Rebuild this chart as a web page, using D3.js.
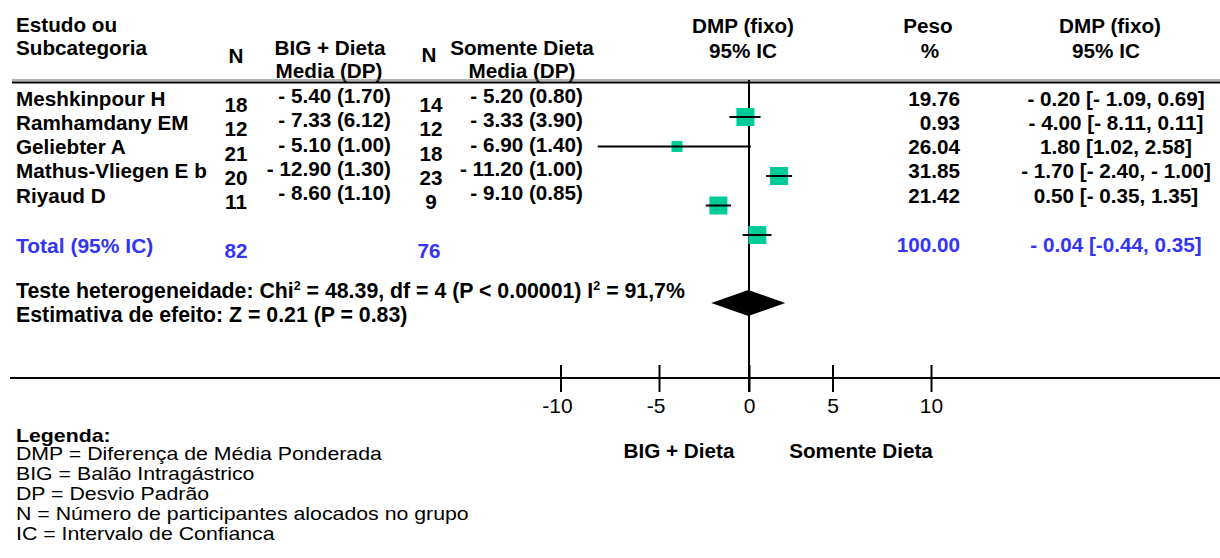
<!DOCTYPE html>
<html>
<head>
<meta charset="utf-8">
<script src="https://cdn.jsdelivr.net/npm/d3@7"></script>
<style>
  html, body { margin: 0; padding: 0; background: #fff; }
  svg { display: block; }
  text { font-family: "Liberation Sans", Arial, Helvetica, sans-serif; }
</style>
</head>
<body>
<svg id="chart" width="1220" height="558"></svg>
<script>
// ---- Study data: balloon + diet vs diet alone ----
const studies   = ["Meshkinpour H", "Ramhamdany EM", "Geliebter A", "Mathus-Vliegen E b", "Riyaud D"];
const nBig      = [18, 12, 21, 20, 11];
const meanBig   = [-5.40, -7.33, -5.10, -12.90, -8.60];
const sdBig     = [1.70, 6.12, 1.00, 1.30, 1.10];
const nDiet     = [14, 12, 18, 23, 9];
const meanDiet  = [-5.20, -3.33, -6.90, -11.20, -9.10];
const sdDiet    = [0.80, 3.90, 1.40, 1.00, 0.85];
const weights   = [19.76, 0.93, 26.04, 31.85, 21.42];
const wmd       = [-0.20, -4.00, 1.80, -1.70, 0.50];
const ciLow     = [-1.09, -8.11, 1.02, -2.40, -0.35];
const ciHigh    = [0.69, 0.11, 2.58, -1.00, 1.35];

// pooled (fixed effect) result
const totalNBig    = 82;
const totalNDiet   = 76;
const totalWeight  = 100.00;
const pooledWmd    = -0.04;
const pooledLow    = -0.44;
const pooledHigh   = 0.35;

const tickValues  = [-10, -5, 0, 5, 10];
const legendLines = [
  "DMP = Diferença de Média Ponderada",
  "BIG = Balão Intragástrico",
  "DP = Desvio Padrão",
  "N = Número de participantes alocados no grupo",
  "IC = Intervalo de Confianca"
];

// ---- helpers ----
const BLUE = "#3434f4";
const GREEN = "#00cc99";
const svg = d3.select("#chart");
svg.append("rect").attr("width", 1220).attr("height", 558).attr("fill", "#fff");

function label(x, y, s, opt = {}) {
  return svg.append("text")
    .attr("x", x).attr("y", y)
    .attr("text-anchor", opt.anchor || "start")
    .attr("font-weight", opt.weight || "bold")
    .attr("font-size", opt.size || 20.7)
    .attr("fill", opt.fill || "#000")
    .text(s);
}
// wide, short lettering for the tightly spaced legend block
function wideLabel(x, y, s, weight) {
  return svg.append("text")
    .attr("transform", `translate(${x},${y}) scale(1.217,1)`)
    .attr("font-weight", weight)
    .attr("font-size", 17.5)
    .attr("fill", "#000")
    .text(s);
}
const signed = v => (v < 0 ? "- " : "") + Math.abs(v).toFixed(2);
const tight  = v => (v < 0 ? "-" : "") + Math.abs(v).toFixed(2);

// ---- column headers ----
label(16, 32, "Estudo ou");
label(16, 55, "Subcategoria");
label(236, 63, "N", { anchor: "middle" });
label(330, 55, "BIG + Dieta", { anchor: "middle" });
label(329, 78, "Media (DP)", { anchor: "middle" });
label(429, 62, "N", { anchor: "middle" });
label(522, 55, "Somente Dieta", { anchor: "middle" });
label(522, 78, "Media (DP)", { anchor: "middle" });
label(743, 33, "DMP (fixo)", { anchor: "middle" });
label(743, 58, "95% IC", { anchor: "middle" });
label(928, 33, "Peso", { anchor: "middle" });
label(930, 58, "%", { anchor: "middle" });
label(1110, 33, "DMP (fixo)", { anchor: "middle" });
label(1106, 58, "95% IC", { anchor: "middle" });

// header rule (double line)
svg.append("line").attr("x1", 12).attr("x2", 1220).attr("y1", 80).attr("y2", 80)
  .attr("stroke", "#666").attr("stroke-width", 1);
svg.append("line").attr("x1", 12).attr("x2", 1220).attr("y1", 82.5).attr("y2", 82.5)
  .attr("stroke", "#000").attr("stroke-width", 2);

// ---- table rows ----
const rowY = d3.scalePoint().domain(studies).range([105.5, 202.5]);
studies.forEach((s, i) => {
  const y = rowY(s);
  label(16, y, s);
  label(236, y + 6.5, nBig[i], { anchor: "middle" });
  label(391, y - 2.5, `${signed(meanBig[i])} (${sdBig[i].toFixed(2)})`, { anchor: "end" });
  label(431, y + 6.5, nDiet[i], { anchor: "middle" });
  label(583, y - 2.5, `${signed(meanDiet[i])} (${sdDiet[i].toFixed(2)})`, { anchor: "end" });
  label(960, y, weights[i].toFixed(2), { anchor: "end" });
  label(1116, y, `${signed(wmd[i])} [${signed(ciLow[i])}, ${signed(ciHigh[i])}]`, { anchor: "middle" });
});

// total row
label(16, 253, "Total (95% IC)", { fill: BLUE, size: 21 });
label(236, 258, totalNBig, { anchor: "middle", fill: BLUE });
label(429, 258, totalNDiet, { anchor: "middle", fill: BLUE });
label(960, 252, totalWeight.toFixed(2), { anchor: "end", fill: BLUE });
label(1116, 252, `${signed(pooledWmd)} [${tight(pooledLow)}, ${tight(pooledHigh)}]`, { anchor: "middle", fill: BLUE });

// heterogeneity and overall effect
const het = svg.append("text").attr("x", 16).attr("y", 298)
  .attr("font-weight", "bold").attr("font-size", 21.3).attr("fill", "#000");
het.append("tspan").text("Teste heterogeneidade: Chi");
het.append("tspan").attr("font-size", 12.5).attr("dy", -8).text("2");
het.append("tspan").attr("dy", 8).text(" = 48.39, df = 4 (P < 0.00001) I");
het.append("tspan").attr("font-size", 12.5).attr("dy", -8).text("2");
het.append("tspan").attr("dy", 8).text(" = 91,7%");
label(16, 322, "Estimativa de efeito: Z = 0.21 (P = 0.83)", { size: 21.3 });

// ---- forest plot ----
const x = d3.scaleLinear().domain(tickValues).range([560.5, 659, 749, 832.5, 931]);
const markY = d3.scalePoint().domain(studies).range([117, 235]);
const boxSize = d3.scaleThreshold().domain([5]).range([11, 18]);
const axisY = 378;

// zero line
svg.append("line").attr("x1", x(0)).attr("x2", x(0)).attr("y1", 80).attr("y2", 392)
  .attr("stroke", "#000").attr("stroke-width", 2);

// study boxes and confidence intervals
const marks = svg.append("g");
studies.forEach((s, i) => {
  const cy = markY(s), sz = boxSize(weights[i]);
  marks.append("rect")
    .attr("x", x(wmd[i]) - sz / 2).attr("y", cy - sz / 2)
    .attr("width", sz).attr("height", sz).attr("fill", GREEN);
  marks.append("line")
    .attr("x1", x(ciLow[i])).attr("x2", x(ciHigh[i]))
    .attr("y1", cy).attr("y2", cy)
    .attr("stroke", "#000").attr("stroke-width", 2);
});

// pooled diamond
const dy = 303, dh = 13, dw = 37, dx = x(pooledWmd);
svg.append("path")
  .attr("d", `M${dx - dw},${dy} L${dx},${dy - dh} L${dx + dw},${dy} L${dx},${dy + dh} Z`)
  .attr("fill", "#000");

// axis
svg.append("line").attr("x1", 10).attr("x2", 1220).attr("y1", axisY).attr("y2", axisY)
  .attr("stroke", "#000").attr("stroke-width", 2);
const axis = svg.append("g").attr("transform", `translate(0,${axisY})`)
  .call(d3.axisBottom(x).tickValues(tickValues).tickSizeInner(14).tickSizeOuter(0)
    .tickFormat(d => (d < 0 ? "-" : "") + Math.abs(d)));
axis.select(".domain").remove();
axis.selectAll(".tick line").attr("y1", -13).attr("stroke", "#000").attr("stroke-width", 2);
axis.selectAll(".tick text")
  .attr("y", 35).attr("dy", 0)
  .attr("dx", d => d < 0 ? -3.5 : 0)
  .attr("font-size", 21).attr("font-weight", "normal")
  .attr("font-family", "\"Liberation Sans\", Arial, sans-serif")
  .attr("fill", "#000");

label(679, 458, "BIG + Dieta", { anchor: "middle" });
label(861, 458, "Somente Dieta", { anchor: "middle" });

// ---- legend ----
wideLabel(16, 442, "Legenda:", "bold");
legendLines.forEach((s, i) => wideLabel(16, 460 + i * 20, s, "normal"));
</script>
</body>
</html>
